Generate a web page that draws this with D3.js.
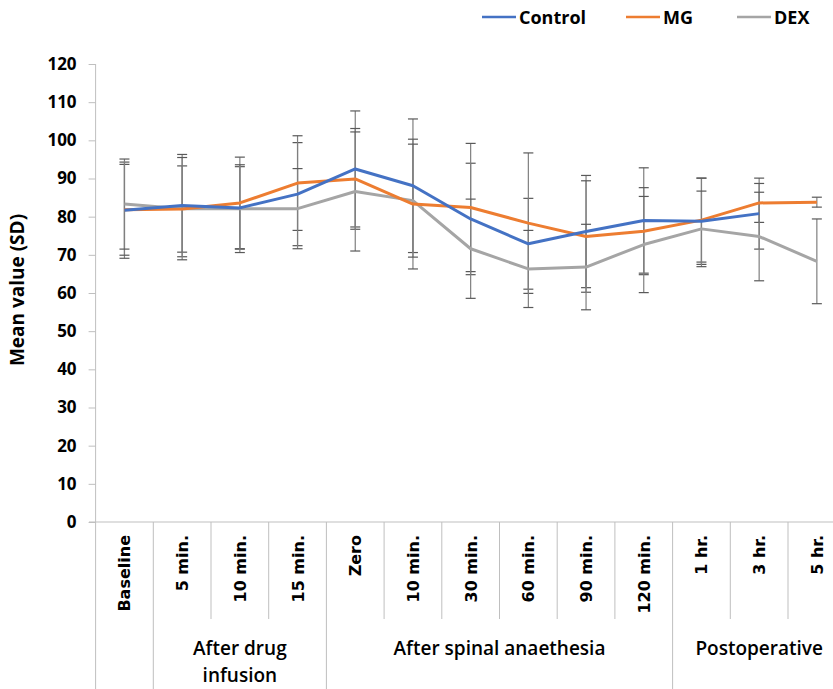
<!DOCTYPE html>
<html>
<head>
<meta charset="utf-8">
<script src="https://cdn.jsdelivr.net/npm/d3@7"></script>
<style>
  body { margin: 0; background: #fff; }
  text { font-family: "Open Sans", sans-serif; }
</style>
</head>
<body>
<div id="chart"></div>
<script>
// categories and groups
var categories = ["Baseline", "5 min.", "10 min.", "15 min.", "Zero", "10 min.", "30 min.", "60 min.", "90 min.", "120 min.", "1 hr.", "3 hr.", "5 hr."];
var groups = [
  { name: [""], start: 0, end: 0 },
  { name: ["After drug", "infusion"], start: 1, end: 3 },
  { name: ["After spinal anaethesia"], start: 4, end: 9 },
  { name: ["Postoperative"], start: 10, end: 12 }
];
var yTicks = [0, 10, 20, 30, 40, 50, 60, 70, 80, 90, 100, 110, 120];

// series means and SDs (null = no value)
var controlMean = [81.7, 82.9, 82.3, 85.9, 92.5, 88.1, 79.4, 72.9, 76.1, 79.0, 78.8, 80.8, null];
var controlSD   = [12.6, 13.4, 10.8, 13.5, 15.2, 17.5, 14.6, 11.9, 14.7, 13.8, 11.3, 9.3, null];
var mgMean      = [81.8, 82.0, 83.6, 88.8, 89.9, 83.3, 82.4, 78.3, 74.8, 76.2, 79.1, 83.6, 83.8];
var mgSD        = [11.9, 11.3, 12.0, 12.4, 13.2, 17.0, 16.8, 18.4, 14.6, 11.4, 11.0, 5.1, 1.3];
var dexMean     = [83.3, 82.1, 82.1, 82.1, 86.6, 84.2, 71.6, 66.3, 66.8, 72.7, 76.8, 74.8, 68.3];
var dexSD       = [11.8, 13.4, 11.5, 10.5, 15.6, 14.8, 13.0, 10.1, 11.2, 12.6, 9.9, 11.6, 11.1];

var seriesNames = ["Control", "MG", "DEX"];
var seriesColors = ["#4472C4", "#ED7D31", "#A5A5A5"];

var series = [
  { name: "Control", mean: controlMean, sd: controlSD },
  { name: "MG", mean: mgMean, sd: mgSD },
  { name: "DEX", mean: dexMean, sd: dexSD }
];

var W = 833, H = 689;
var svg = d3.select("#chart").append("svg")
  .attr("width", W).attr("height", H);

var x = d3.scaleBand()
  .domain(d3.range(categories.length))
  .range([95.6, 95.6 + 57.7 * categories.length]);

var y = d3.scaleLinear().domain([0, 120]).range([522, 64]);

var color = d3.scaleOrdinal().domain(seriesNames).range(seriesColors);

// y axis
var yAxis = svg.append("g")
  .attr("transform", "translate(95.6,0)")
  .call(d3.axisLeft(y).tickValues(yTicks).tickSize(7).tickPadding(12));
yAxis.select(".domain").attr("stroke", "#BFBFBF").attr("d", "M0," + y(120) + "V" + y(0));
yAxis.selectAll(".tick line").attr("stroke", "#BFBFBF");
yAxis.selectAll(".tick text")
  .attr("fill", "#000")
  .style("font-size", "17px")
  .style("font-weight", "bold")
  .style("font-family", "Open Sans");

// y title
svg.append("text")
  .attr("transform", "translate(24," + 290 + ") rotate(-90)")
  .attr("text-anchor", "middle")
  .style("font-size", "19px")
  .style("font-weight", "bold")
  .text("Mean value (SD)");

// category axis line
svg.append("line")
  .attr("x1", 89).attr("x2", W)
  .attr("y1", y(0)).attr("y2", y(0))
  .attr("stroke", "#BFBFBF");

// separators in the label table
var groupStarts = groups.map(function (g) { return g.start; });
d3.range(categories.length).forEach(function (i) {
  var isGroup = groupStarts.indexOf(i) >= 0;
  svg.append("line")
    .attr("x1", x(i)).attr("x2", x(i))
    .attr("y1", y(0)).attr("y2", isGroup ? H : 619)
    .attr("stroke", "#BFBFBF");
});

// category labels
svg.selectAll(".cat")
  .data(categories)
  .enter()
  .append("text")
  .attr("class", "cat")
  .attr("transform", function (d, i) {
    return "translate(" + (x(i) + x.bandwidth() / 2 + 6) + ",535) rotate(-90)";
  })
  .attr("text-anchor", "end")
  .style("font-family", "DejaVu Sans")
  .style("font-size", "16px")
  .style("font-weight", "bold")
  .text(function (d) { return d; });

// group labels
groups.forEach(function (g) {
  var cx = (x(g.start) + x(g.end) + x.bandwidth()) / 2;
  var t = svg.append("text")
    .attr("text-anchor", "middle")
    .style("font-size", "19px")
    .style("font-weight", "600");
  g.name.forEach(function (line, k) {
    t.append("tspan").attr("x", cx).attr("y", 655 + k * 27).text(line);
  });
});

// error bars
var capW = 5;
series.forEach(function (s) {
  var g = svg.append("g");
  s.mean.forEach(function (m, i) {
    if (m === null) return;
    var cx = x(i) + x.bandwidth() / 2;
    var hi = y(m + s.sd[i]), lo = y(m - s.sd[i]);
    g.append("line").attr("x1", cx).attr("x2", cx).attr("y1", hi).attr("y2", lo)
      .attr("stroke", "#7F7F7F").attr("stroke-width", 1.2);
    [hi, lo].forEach(function (yy) {
      g.append("line").attr("x1", cx - capW).attr("x2", cx + capW).attr("y1", yy).attr("y2", yy)
        .attr("stroke", "#595959").attr("stroke-width", 1.2);
    });
  });
});

// lines
var line = d3.line()
  .defined(function (d) { return d.v !== null; })
  .x(function (d) { return x(d.i) + x.bandwidth() / 2; })
  .y(function (d) { return y(d.v); });

series.slice().reverse().forEach(function (s) {
  svg.append("path")
    .datum(s.mean.map(function (v, i) { return { i: i, v: v }; }))
    .attr("d", line)
    .attr("fill", "none")
    .attr("stroke", color(s.name))
    .attr("stroke-width", 3)
    .attr("stroke-linejoin", "round");
});

// legend
var legendX = [482, 626, 737];
seriesNames.forEach(function (n, i) {
  svg.append("line")
    .attr("x1", legendX[i]).attr("x2", legendX[i] + 34)
    .attr("y1", 17).attr("y2", 17)
    .attr("stroke", color(n)).attr("stroke-width", 2.5);
  svg.append("text")
    .attr("x", legendX[i] + 37).attr("y", 24)
    .style("font-size", "18px")
    .style("font-weight", "bold")
    .text(n);
});
</script>
</body>
</html>
